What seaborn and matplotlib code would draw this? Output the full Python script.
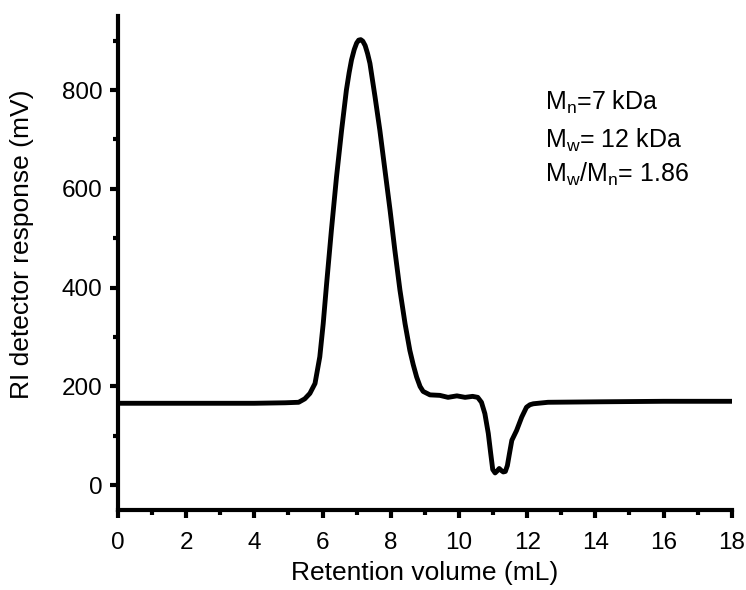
import matplotlib
matplotlib.use("Agg")
import matplotlib.pyplot as plt
from matplotlib.ticker import MultipleLocator
import numpy as np
import pandas as pd
import seaborn as sns

# RI trace (retention volume in mL, response in mV)
volume = [0.0, 2.0, 4.0, 4.9, 5.3, 5.48, 5.63, 5.78, 5.92, 6.02, 6.12, 6.26,
          6.41, 6.56, 6.70, 6.78, 6.85, 6.93, 7.00, 7.06, 7.12, 7.18, 7.25,
          7.32, 7.39, 7.54, 7.68, 7.83, 7.98, 8.12, 8.27, 8.42, 8.56, 8.66,
          8.76, 8.86, 8.95, 9.15, 9.44, 9.68, 9.94, 10.18, 10.40, 10.55,
          10.66, 10.76, 10.86, 10.93, 10.99, 11.06, 11.12, 11.18, 11.24,
          11.30, 11.36, 11.42, 11.48, 11.55, 11.69, 11.84, 11.98, 12.08,
          12.18, 12.61, 14.13, 16.0, 18.0]
response = [166, 166, 166, 167, 168, 175, 186, 206, 260, 327, 408, 516,
            624, 719, 800, 835, 861, 882, 895, 901, 902, 899, 890,
            874, 854, 786, 719, 638, 557, 476, 395, 327, 273, 244,
            219, 200, 190, 183, 182, 178, 181, 178, 180, 178,
            168, 145, 105, 65, 32, 25, 29, 34, 30,
            27, 28, 40, 64, 91, 111, 138, 158, 163,
            165, 168, 169, 170, 170]

annotations = [r"M$_{\rm n}$=7 kDa", r"M$_{\rm w}$= 12 kDa", r"M$_{\rm w}$/M$_{\rm n}$= 1.86"]
annot_y = [759, 684, 614]

df = pd.DataFrame({"volume": volume, "response": response})

sns.set_style("ticks")
plt.rcParams["font.family"] = ["Liberation Sans", "DejaVu Sans"]
plt.rcParams["mathtext.fontset"] = "custom"
plt.rcParams["mathtext.rm"] = "Liberation Sans"
plt.rcParams["mathtext.it"] = "Liberation Sans"
plt.rcParams["text.color"] = "black"
plt.rcParams["axes.labelcolor"] = "black"
plt.rcParams["xtick.color"] = "black"
plt.rcParams["ytick.color"] = "black"

fig = plt.figure(figsize=(7.46, 5.90), dpi=100)
ax = fig.add_axes([0.158, 0.1356, 0.823, 0.8374])

sns.lineplot(data=df, x="volume", y="response", color="black", linewidth=3.5,
             sort=False, estimator=None, ax=ax)

ax.set_xlim(0, 18)
ax.set_ylim(-50, 950)
ax.xaxis.set_major_locator(MultipleLocator(2))
ax.xaxis.set_minor_locator(MultipleLocator(1))
ax.yaxis.set_major_locator(MultipleLocator(200))
ax.yaxis.set_minor_locator(MultipleLocator(100))
ax.set_yticks([0, 200, 400, 600, 800])

sns.despine(ax=ax)
for s in ["left", "bottom"]:
    ax.spines[s].set_linewidth(3)
    ax.spines[s].set_color("black")
ax.tick_params(which="major", length=6, width=3, labelsize=17.5, pad=5)
ax.tick_params(axis="x", which="major", pad=9.5)
ax.tick_params(which="minor", length=3.5, width=3)

ax.set_xlabel("Retention volume (mL)", fontsize=19, labelpad=5.5)
ax.set_ylabel("RI detector response (mV)", fontsize=19)
ax.yaxis.set_label_coords(-0.137, 0.538)

for txt, yv in zip(annotations, annot_y):
    ax.text(12.52, yv, txt, fontsize=18, ha="left", va="baseline")

fig.savefig("out.png", dpi=100)
